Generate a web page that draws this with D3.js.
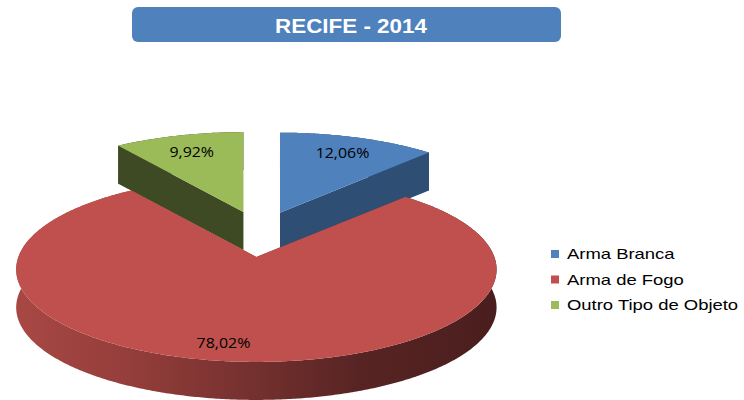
<!DOCTYPE html>
<html>
<head>
<meta charset="utf-8">
<script src="https://cdn.jsdelivr.net/npm/d3@7"></script>
<style>
  html, body { margin: 0; padding: 0; background: #fff; }
  svg { display: block; }
</style>
</head>
<body>
<svg id="chart" width="744" height="400"></svg>
<script>
// ---- data ----
const chartTitle = "RECIFE - 2014";
const categories = ["Arma Branca", "Arma de Fogo", "Outro Tipo de Objeto"];
const shares = [12.06, 78.02, 9.92];

// ---- styles ----
const topColors = ["#4F81BD", "#C0504D", "#9BBB59"];
const wallColors = ["#2F4E73", "#7A302E", "#3E4A23"];

const svg = d3.select("#chart");

// Portuguese number format: decimal comma
const ptBR = d3.formatLocale({ decimal: ",", thousands: ".", grouping: [3], currency: ["R$", ""] });
const pct = v => ptBR.format(".2f")(v) + "%";

// ---- 3D pie geometry ----
const pieCenter = { x: 260, y: 234 };
const radiusX = 238;     // horizontal half-axis of the disc
const radiusY = 90.8;    // vertical half-axis before perspective
const persp = 0.135;     // perspective strength (front larger than back)
const thickness = 38;    // height of the disc wall
const explodeX = 54, explodeY = 23;
const labelRadius = 0.78;
const labelNudge = { "Arma de Fogo": [-19, 6] };

const pie = d3.pie().sort(null).value(d => d);
const arcs = pie(shares).map((a, i) => {
  const mid = (a.startAngle + a.endAngle) / 2;
  return {
    ...a, i, mid,
    ox: pieCenter.x + explodeX * Math.sin(mid),
    oy: pieCenter.y - explodeY * Math.cos(mid)
  };
});

// angle measured clockwise from 12 o'clock; r in units of the radius
function project(theta, r) {
  const u = r * Math.sin(theta), v = -r * Math.cos(theta);
  const w = 1 - persp * v;
  return [radiusX * u / w, radiusY * v / w];
}

function arcPoints(a, dy) {
  const n = Math.max(2, Math.ceil((a.endAngle - a.startAngle) / (Math.PI / 360)));
  const t = d3.scaleLinear().domain([0, n]).range([a.startAngle, a.endAngle]);
  return d3.range(n + 1).map(k => {
    const p = project(t(k), 1);
    return [a.ox + p[0], a.oy + p[1] + dy];
  });
}

const line = d3.line().curve(d3.curveLinear);
const poly = pts => line(pts) + "Z";

// gradient for the front wall of the large slice
const defs = svg.append("defs");
const grad = defs.append("linearGradient")
  .attr("id", "wallGrad").attr("gradientUnits", "userSpaceOnUse")
  .attr("x1", 16).attr("x2", 496).attr("y1", 0).attr("y2", 0);
[[0, "#A84844"], [0.25, "#933D3A"], [0.5, "#73302E"], [0.72, "#572423"], [1, "#4A1E1E"]]
  .forEach(([o, c]) => grad.append("stop").attr("offset", o).attr("stop-color", c));

const pieG = svg.append("g");

// back slices first, front slice last
arcs.slice().sort((a, b) => a.oy - b.oy).forEach(a => {
  const g = pieG.append("g");
  const top = arcPoints(a, 0);
  const bottom = arcPoints(a, thickness);
  const c = [a.ox, a.oy], cb = [a.ox, a.oy + thickness];

  // outer wall
  g.append("path")
    .attr("d", poly(top.concat(bottom.slice().reverse())))
    .attr("fill", a.i === 1 ? "url(#wallGrad)" : wallColors[a.i]);

  // radial walls
  const s0 = top[0], s1 = bottom[0];
  const e0 = top[top.length - 1], e1 = bottom[bottom.length - 1];
  g.append("path").attr("d", poly([c, s0, s1, cb])).attr("fill", wallColors[a.i]);
  g.append("path").attr("d", poly([c, e0, e1, cb])).attr("fill", wallColors[a.i]);

  // top face
  g.append("path").attr("d", poly([c].concat(top))).attr("fill", topColors[a.i]);
});

// value labels
arcs.forEach(a => {
  const p = project(a.mid, labelRadius);
  const nd = labelNudge[categories[a.i]] || [0, 0];
  svg.append("text")
    .attr("transform", `translate(${a.ox + p[0] + nd[0]},${a.oy + p[1] + nd[1]}) scale(1.1,1)`)
    .attr("text-anchor", "middle")
    .attr("dominant-baseline", "central")
    .attr("font-family", "'Open Sans', sans-serif")
    .attr("font-size", 14.5)
    .attr("fill", "#000")
    .text(pct(a.data));
});

// ---- title box ----
const titleG = svg.append("g");
titleG.append("rect")
  .attr("x", 132).attr("y", 7).attr("width", 429).attr("height", 35)
  .attr("rx", 6).attr("fill", "#4F81BD");
titleG.append("text")
  .attr("transform", "translate(351,33) scale(1.12,1)")
  .attr("text-anchor", "middle")
  .attr("font-family", "'Liberation Sans', Arial, sans-serif")
  .attr("font-weight", "bold")
  .attr("font-size", 20)
  .attr("fill", "#fff")
  .text(chartTitle);

// ---- legend ----
const legend = svg.append("g").attr("transform", "translate(551,259)");
const legendY = d3.scalePoint().domain(categories).range([0, 51]);
categories.forEach((name, i) => {
  const row = legend.append("g").attr("transform", `translate(0,${legendY(name)})`);
  row.append("rect").attr("x", 0).attr("y", -9).attr("width", 8).attr("height", 8)
    .attr("fill", topColors[i]);
  row.append("text")
    .attr("transform", "translate(16,0) scale(1.23,1)")
    .attr("font-family", "'Liberation Sans', Arial, sans-serif")
    .attr("font-size", 15)
    .attr("fill", "#000")
    .text(name);
});
</script>
</body>
</html>
